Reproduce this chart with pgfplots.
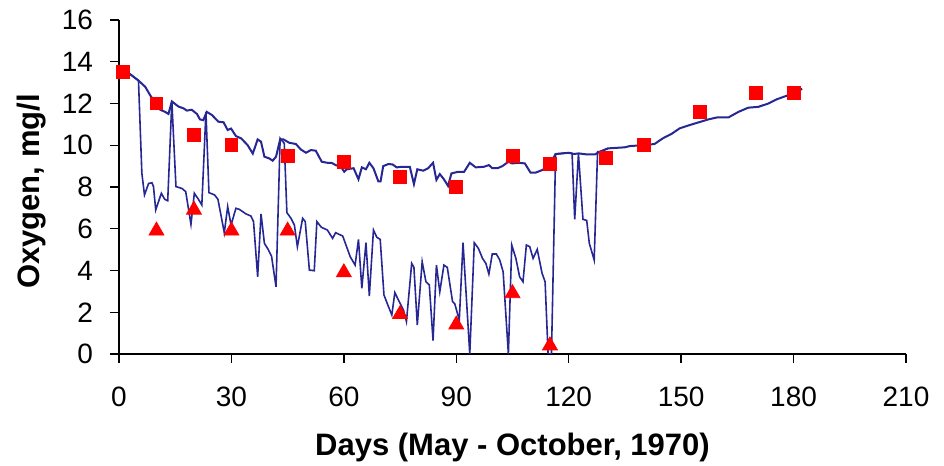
\documentclass[border=0pt]{standalone}
\usepackage{fontspec}
\setmainfont{Liberation Sans}
\usepackage{pgfplots}
\pgfplotsset{compat=1.18}
\definecolor{navyline}{RGB}{38,38,148}
\begin{document}
\begin{tikzpicture}
\begin{axis}[
  scale only axis, width=393.5pt, height=167pt,
  xmin=0, xmax=210, ymin=0, ymax=16,
  xtick={0,30,...,210}, ytick={0,2,...,16},
  axis x line*=bottom, axis y line*=left,
  axis line style={line width=0.65pt, black, -},
  tick style={line width=0.65pt, black},
  tick align=outside, major tick length=4.5pt,
  every tick label/.append style={font=\fontsize{14}{16}\selectfont},
  xticklabel style={yshift=-8.5pt},
  yticklabel style={xshift=-5pt},
  /pgf/number format/assume math mode=true,
  xlabel={Days (May - October, 1970)},
  ylabel={Oxygen, mg/l},
  every axis x label/.style={at={(axis description cs:0.5,0)}, yshift=-46.5pt, anchor=center, font=\fontsize{15.5}{18}\selectfont\bfseries},
  every axis y label/.style={at={(axis description cs:0,0.5)}, xshift=-43.5pt, yshift=-2.25pt, rotate=90, anchor=center, font=\fontsize{15.5}{18}\selectfont\bfseries},
]
% upper (mean) line
\addplot[navyline, line width=1pt, mark=none] coordinates {
(1,13.5)(3,13.4)(5.2,13.1)(7,12.8)(8.3,12.4)(11,11.7)(12.3,11.6)(13.2,11.5)(14.1,12.1)
(15.9,11.85)(17.2,11.77)(18.1,11.66)(19.4,11.7)(20.8,11.5)(21.6,11.24)(22.5,11.2)(23.4,11.6)
(24.8,11.45)(26.5,11.13)(27.9,11.1)(29,10.73)(29.9,10.8)(31.2,10.44)(32.6,10.33)(34.3,10.01)
(35.7,9.6)(37,10.28)(37.9,10.17)(38.8,9.45)(40.1,9.37)(41,9.26)(41.9,9.45)(43,10.28)(43.9,10.28)
(45.4,10.12)(47.2,10.06)(48.5,9.8)(49.9,9.64)(51.2,9.77)(52.5,9.74)(54.1,9.21)(55.6,9.16)
(56.7,9.16)(57.8,9.05)(59.2,8.97)(60.1,8.73)(60.8,8.85)(62.6,8.9)(63.9,8.37)(64.8,8.94)
(65.9,8.85)(66.8,9.16)(67.9,8.9)(69.2,8.27)(69.8,8.27)(70.5,9.0)(71.9,9.1)(73,9.08)(74.1,8.94)
(75.4,8.97)(77.6,8.97)(78.7,8.14)(79.6,8.85)(81.2,8.78)(82.5,8.9)(83.8,9.16)(84.7,8.34)
(85.6,8.62)(86.7,8.37)(87.8,8.05)(88.7,8.65)(90.5,8.73)(92.1,8.73)(93.6,9.16)(95.2,8.94)
(97.4,8.97)(98.7,9.05)(99.6,8.9)(101,8.9)(102.3,9.0)(103.9,9.21)(104.9,9.13)(106.7,9.16)
(108.3,9.13)(109.8,8.69)(111.2,8.69)(112.9,8.81)(114.7,9.0)(116.5,9.58)(118.3,9.61)(120,9.64)
(121.4,9.58)(122.7,9.61)(124.8,9.56)(127,9.56)(128.3,9.69)(130.5,9.85)(134.9,9.9)(136.3,9.96)
(140.3,10.01)(142.9,10.06)(145.1,10.33)(147.4,10.54)(149.6,10.81)(151.8,10.94)(153.8,11.05)
(157.3,11.24)(159.5,11.33)(162.6,11.33)(165.3,11.6)(167.9,11.8)(170.6,11.84)(173.3,12.0)
(175.5,12.2)(178.6,12.4)(182.3,12.7)
};
% lower (minimum) line
\addplot[navyline, line width=0.8pt, mark=none] coordinates {
(1,13.5)(3,13.4)(5.2,13.1)(6.1,8.66)(6.8,7.62)(7.9,8.17)(8.8,8.2)(9.2,8.02)(9.8,6.9)(11.3,7.7)
(12.2,7.41)(13,7.34)(14.1,12.1)(15.2,8.02)(16.8,7.93)(17.8,7.78)(19.2,6.21)(20.1,7.7)(21.2,7.41)
(22.1,7.14)(23.2,11.6)(24,7.73)(25.5,7.62)(26.4,7.41)(28.1,5.81)(29,7.06)(29.9,6.18)(31.2,6.98)
(32.1,6.93)(33.9,6.71)(35.2,6.61)(35.9,6.34)(37,3.7)(37.9,6.71)(38.8,5.3)(39.8,5.01)(40.7,4.69)
(41.9,3.22)(43,10.33)(44.1,10.09)(44.8,6.77)(45.9,6.5)(46.8,6.18)(47.6,5.14)(49,6.5)(49.7,6.34)
(50.8,4.02)(52.1,3.99)(52.8,6.34)(54,6.07)(55.6,5.94)(57,5.54)(57.8,5.81)(59.7,5.65)(61.7,4.66)
(63,4.26)(63.9,5.49)(64.8,3.15)(65.9,5.33)(66.8,2.78)(67.9,5.94)(68.8,5.59)(69.7,5.49)(70.7,2.83)
(71.9,2.27)(72.8,1.87)(73.6,2.94)(75,2.43)(75.9,2.11)(76.7,1.55)(78.1,4.34)(78.7,4.15)(79.6,1.39)
(80.9,4.42)(81.9,3.46)(82.8,3.31)(83.8,0.64)(84.7,4.26)(85.6,2.98)(86.7,4.26)(87.6,4.15)(89,2.51)
(89.6,2.4)(90.8,1.63)(91.8,5.33)(93.6,0)(94.8,5.33)(95.9,5.06)(97,4.58)(97.9,4.34)(98.7,3.83)
(99.6,4.79)(100.7,4.79)(101.6,4.5)(102.5,3.94)(103.9,0)(104.8,5.22)(105.9,4.58)(106.9,3.7)
(107.8,3.46)(108.7,5.22)(109.6,5.14)(110.5,4.58)(111.6,5.01)(112.9,3.86)(113.7,3.46)(114.5,0)
(115.4,0)(116.5,9.58)(118.3,9.61)(120,9.64)(120.9,9.61)(121.6,6.45)(122.6,9.6)(123.8,6.45)
(124.8,6.4)(125.5,5.3)(126.8,4.5)(127.7,9.69)(128.3,9.69)(130.5,9.85)
};
% observed mean (squares)
\addplot[only marks, mark=square*, mark size=3.2pt, color=red] coordinates {
(1,13.5)(10,12)(20,10.5)(30,10)(45,9.5)(60,9.2)(75,8.5)(90,8.0)(105,9.5)(115,9.1)
(130,9.4)(140,10.0)(155,11.6)(170,12.5)(180,12.5)
};
% observed minimum (triangles)
\addplot[only marks, mark=triangle*, mark size=4.3pt, color=red, mark options={yshift=-1pt}] coordinates {
(10,6)(20,7)(30,6)(45,6)(60,4)(75,2)(90,1.5)(105,3.0)(115,0.5)
};
\end{axis}
\pgfresetboundingbox
\path[use as bounding box] ([shift={(-59.5pt,-56pt)}]current axis.south west) rectangle ([shift={(19pt,10pt)}]current axis.north east);
\end{tikzpicture}
\end{document}
